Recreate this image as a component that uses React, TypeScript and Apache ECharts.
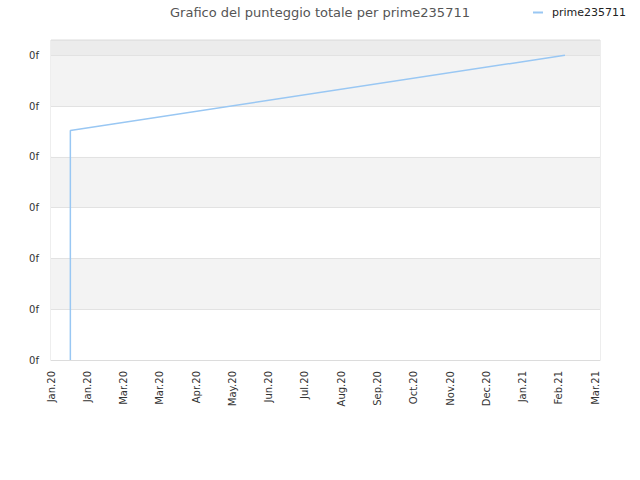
import React, { useEffect, useRef } from "react";
import * as echarts from "echarts";

const title = "Grafico del punteggio totale per prime235711";
const seriesName = "prime235711";
const monthNames = ["Jan", "Feb", "Mar", "Apr", "May", "Jun", "Jul", "Aug", "Sep", "Oct", "Nov", "Dec"];
const dates = ["2020-01-17", "2020-01-17", "2021-03-01"];
const scores = [0, 4.52, 6.0];
const yLabel = "0f";
const axisStartDate = "2020-01-01";
const axisDays = 454;
const tickDays = 30;

const DAY = 86400000;
const startMs = Date.parse(axisStartDate + "T00:00:00Z");
const toDays = (d: string) => (Date.parse(d + "T00:00:00Z") - startMs) / DAY;
const fmtDay = (v: number) => {
  const d = new Date(startMs + v * DAY);
  return monthNames[d.getUTCMonth()] + "." + String(d.getUTCFullYear()).slice(2);
};

export default function App() {
  const ref = useRef<HTMLDivElement>(null);
  useEffect(() => {
    if (!ref.current) return;
    const chart = echarts.init(ref.current, undefined, { renderer: "svg" });
    const font = "DejaVu Sans";
    chart.setOption({
      animation: false,
      textStyle: { fontFamily: font },
      title: {
        text: title,
        left: "center",
        top: 1,
        textStyle: { fontFamily: font, fontSize: 13, fontWeight: "normal", color: "#555" },
      },
      legend: {
        data: [seriesName],
        left: 528,
        top: 2,
        itemWidth: 10,
        itemHeight: 14,
        itemGap: 5,
        icon: "path://M0,6 L10,6 L10,8 L0,8 Z",
        textStyle: { fontFamily: font, fontSize: 11, color: "#222", padding: [0, 0, 0, 4] },
      },
      grid: {
        left: 51,
        right: 40,
        top: 40,
        bottom: 120,
        show: true,
        borderColor: "#dcdcdc",
        borderWidth: 1,
        backgroundColor: "transparent",
      },
      xAxis: {
        type: "value",
        min: 0,
        max: axisDays,
        interval: tickDays,
        axisLine: { show: true, lineStyle: { color: "#dcdcdc" } },
        axisTick: { show: false },
        splitLine: { show: false },
        axisLabel: {
          rotate: 90,
          margin: 11,
          fontSize: 10,
          color: "#333",
          fontFamily: font,
          showMaxLabel: false,
          formatter: (v: number) => fmtDay(v),
        },
      },
      yAxis: {
        type: "value",
        min: 0,
        max: 6.3,
        interval: 1,
        axisLine: { show: false },
        axisTick: { show: false },
        splitLine: { show: true, lineStyle: { color: "#e2e2e2" } },
        splitArea: {
          show: true,
          areaStyle: {
            color: ["#ffffff", "#f3f3f3", "#ffffff", "#f3f3f3", "#ffffff", "#f3f3f3", "#ececec"],
          },
        },
        axisLabel: {
          margin: 12,
          fontSize: 10,
          color: "#333",
          fontFamily: font,
          showMaxLabel: false,
          formatter: () => yLabel,
        },
      },
      series: [
        {
          name: seriesName,
          type: "line",
          showSymbol: false,
          symbol: "none",
          color: "#99c7f3",
          lineStyle: { width: 1.5, color: "#99c7f3" },
          data: dates.map((d, i) => [toDays(d), scores[i]]),
        },
      ],
    });
    return () => chart.dispose();
  }, []);
  return (
    <div
      ref={ref}
      style={{ position: "absolute", left: 0, top: 0, width: 640, height: 480 }}
    />
  );
}
